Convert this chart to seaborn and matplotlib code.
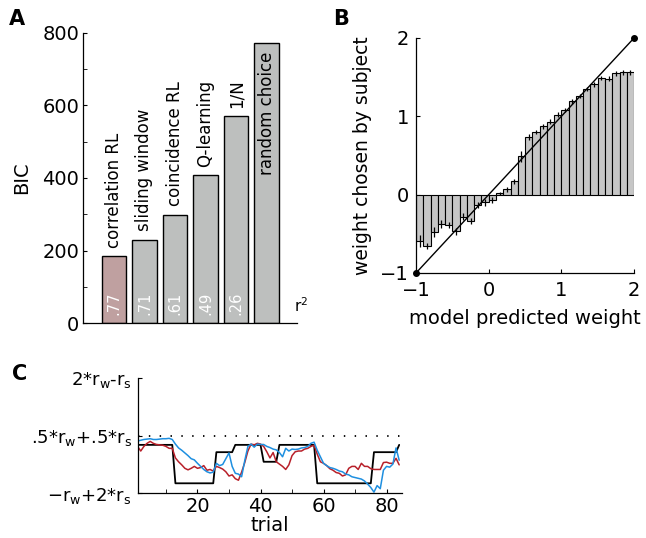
import numpy as np
import pandas as pd
import matplotlib
matplotlib.use('Agg')
import matplotlib.pyplot as plt
import seaborn as sns

# ---- Panel A: model comparison (BIC) ----
models = ['correlation RL', 'sliding window', 'coincidence RL', 'Q-learning', '1/N', 'random choice']
bic = [184, 230, 299, 407, 570, 772]
r2_labels = ['.77', '.71', '.61', '.49', '.26', '']
bar_colors = ['#c49b9b', '#bdbfbe', '#bdbfbe', '#bdbfbe', '#bdbfbe', '#bdbfbe']

# ---- Panel B: chosen vs predicted weight ----
pred_weight = [-0.95, -0.85, -0.75, -0.65, -0.55, -0.45, -0.35, -0.25, -0.15, -0.05,
               0.05, 0.15, 0.25, 0.35, 0.45, 0.55, 0.65, 0.75, 0.85, 0.95,
               1.05, 1.15, 1.25, 1.35, 1.45, 1.55, 1.65, 1.75, 1.85, 1.95]
chosen_weight = [-0.59, -0.66, -0.48, -0.38, -0.39, -0.47, -0.28, -0.34, -0.13, -0.10,
                 -0.065, 0.02, 0.07, 0.17, 0.49, 0.74, 0.80, 0.87, 0.93, 1.02,
                 1.08, 1.19, 1.26, 1.35, 1.41, 1.49, 1.48, 1.55, 1.56, 1.56]
chosen_err = [0.075, 0.04, 0.065, 0.05, 0.04, 0.05, 0.05, 0.04, 0.04, 0.04,
              0.04, 0.02, 0.03, 0.03, 0.07, 0.04, 0.03, 0.03, 0.03, 0.03,
              0.03, 0.03, 0.03, 0.03, 0.03, 0.03, 0.03, 0.03, 0.03, 0.03]
identity = [-1, 2]

# ---- Panel C: example session ----
trial = list(range(1, 85))
true_w = [0.26, 0.26, 0.26, 0.26, 0.26, 0.26, 0.26, 0.26, 0.26, 0.26, 0.26, 0.26,
          -0.74, -0.74, -0.74, -0.74, -0.74, -0.74, -0.74, -0.74, -0.74, -0.74, -0.74, -0.74, -0.74,
          0.07, 0.07, 0.07, 0.07, 0.07, 0.07,
          0.26, 0.26, 0.26, 0.26, 0.26, 0.26, 0.26, 0.26, 0.26,
          -0.18, -0.18, -0.18, -0.18, -0.18,
          0.26, 0.26, 0.26, 0.26, 0.26, 0.26, 0.26, 0.26, 0.26, 0.26, 0.26, 0.26,
          -0.74, -0.74, -0.74, -0.74, -0.74, -0.74, -0.74, -0.74, -0.74,
          -0.74, -0.74, -0.74, -0.74, -0.74, -0.74, -0.74, -0.74, -0.74,
          0.07, 0.07, 0.07, 0.07, 0.07, 0.07, 0.07, 0.07,
          0.26]
subject_w = [0.22, 0.10, 0.22, 0.30, 0.35, 0.30, 0.27, 0.26, 0.25, 0.22,
             0.17, 0.17, -0.08, -0.18, -0.26, -0.35, -0.39, -0.35, -0.30, -0.35,
             -0.33, -0.28, -0.40, -0.38, -0.42, -0.30, -0.33, -0.37, -0.44, -0.55,
             -0.52, -0.62, -0.66, -0.45, -0.20, 0.10, 0.28, 0.26, 0.30, 0.28,
             0.22, 0.08, -0.08, 0.06, -0.18, -0.24, -0.30, -0.38, -0.26, -0.02,
             0.08, 0.10, 0.10, 0.15, 0.17, 0.22, 0.25, 0.02, -0.18, -0.22,
             -0.28, -0.36, -0.40, -0.46, -0.48, -0.55, -0.52, -0.35, -0.30, -0.30,
             -0.38, -0.22, -0.30, -0.30, -0.36, -0.38, -0.38, -0.38, -0.20, -0.19,
             -0.22, -0.22, -0.09, -0.26]
model_w = [0.36, 0.38, 0.40, 0.41, 0.42, 0.40, 0.40, 0.41, 0.42, 0.42,
           0.43, 0.40, 0.28, 0.18, 0.12, 0.05, -0.02, -0.10, -0.13, -0.22,
           -0.30, -0.38, -0.44, -0.47, -0.45, -0.22, -0.28, -0.25, -0.10, 0.05,
           -0.30, -0.48, -0.50, -0.57, -0.15, 0.22, 0.28, 0.20, 0.28, 0.27,
           0.27, 0.22, 0.19, 0.15, 0.13, 0.06, -0.05, 0.17, 0.10, 0.15,
           0.14, 0.15, 0.18, 0.19, 0.22, 0.30, 0.33, 0.12, -0.05, -0.22,
           -0.28, -0.33, -0.35, -0.38, -0.42, -0.44, -0.50, -0.52, -0.57, -0.59,
           -0.61, -0.63, -0.68, -0.76, -0.85, -0.97, -0.80, -0.88, -0.40, -0.30,
           -0.32, -0.24, 0.18, -0.14]
c_ticks = [-1, 0.5, 2]
c_ticklabels = [r'$-$r$_\mathregular{w}$+2*r$_\mathregular{s}$',
                r'.5*r$_\mathregular{w}$+.5*r$_\mathregular{s}$',
                r'2*r$_\mathregular{w}$-r$_\mathregular{s}$']

sns.set_style('ticks')
plt.rcParams['font.family'] = ['DejaVu Sans']
plt.rcParams['xtick.direction'] = 'in'
plt.rcParams['ytick.direction'] = 'in'
plt.rcParams['axes.linewidth'] = 0.9
for key in ['text.color', 'axes.labelcolor', 'axes.edgecolor', 'xtick.color', 'ytick.color']:
    plt.rcParams[key] = 'black'
plt.rcParams['mathtext.default'] = 'regular'

fig = plt.figure(figsize=(6.46, 5.38), dpi=100)
axA = fig.add_axes([0.1289, 0.3996, 0.3313, 0.5391])
axB = fig.add_axes([0.6440, 0.4926, 0.3375, 0.4368])
axC = fig.add_axes([0.2130, 0.0831, 0.4098, 0.2143])

# Panel A
sns.barplot(x=models, y=bic, hue=models, palette=bar_colors, legend=False,
            width=0.8, edgecolor='black', linewidth=1.0, ax=axA)
for i, (name, val, r2) in enumerate(zip(models, bic, r2_labels)):
    if name == 'random choice':
        axA.annotate(name, (i, val), xytext=(0, -6), textcoords='offset points',
                     rotation=90, ha='center', va='top', fontsize=12)
    else:
        axA.annotate(name, (i, val), xytext=(0, 6), textcoords='offset points',
                     rotation=90, ha='center', va='bottom', fontsize=12)
    if r2:
        axA.text(i, 22, r2, rotation=90, ha='center', va='bottom', color='white', fontsize=10.5)
axA.text(5.9, 22, 'r$^2$', ha='left', va='bottom', fontsize=11)
axA.set_xlim(-1, 6)
axA.set_ylim(0, 800)
axA.set_xticks([])
axA.set_yticks([0, 200, 400, 600, 800])
axA.set_yticks([100, 300, 500, 700], minor=True)
axA.tick_params(axis='y', which='both', length=3, labelsize=14, pad=3)
axA.set_ylabel('BIC', fontsize=14, labelpad=8)
sns.despine(ax=axA)

# Panel B
sns.barplot(x=pred_weight, y=chosen_weight, native_scale=True, width=1.0,
            color='#c6c6c6', edgecolor='black', linewidth=0.8, errorbar=None, ax=axB)
axB.errorbar(pred_weight, chosen_weight, yerr=chosen_err, fmt='none',
             ecolor='black', elinewidth=0.9, capsize=0)
axB.plot(identity, identity, color='black', lw=1.0, marker='o', ms=4, clip_on=False, zorder=5)
axB.set_xlim(-1, 2)
axB.set_ylim(-1, 2)
axB.set_xticks([-1, 0, 1, 2])
axB.set_yticks([-1, 0, 1, 2])
axB.tick_params(axis='both', length=3, labelsize=14)
axB.tick_params(axis='y', pad=5)
axB.tick_params(axis='x', pad=6)
axB.set_xlabel('model predicted weight', fontsize=14, labelpad=6)
axB.set_ylabel('weight chosen by subject', fontsize=13.5, labelpad=6)
sns.despine(ax=axB)

# Panel C
sns.lineplot(x=trial, y=true_w, color='black', lw=1.3, ax=axC)
sns.lineplot(x=trial, y=subject_w, color='#b8202a', lw=1.1, ax=axC)
sns.lineplot(x=trial, y=model_w, color='#1e8fe0', lw=1.1, ax=axC)
axC.axhline(0.5, color='black', lw=1.3, ls=(0, (0.8, 5.2)))
axC.set_xlim(1, 85)
axC.set_ylim(-1, 2)
axC.set_xticks([20, 40, 60, 80])
axC.set_xticks([10, 30, 50, 70], minor=True)
axC.set_yticks(c_ticks)
axC.set_yticklabels(c_ticklabels)
axC.tick_params(axis='both', which='both', length=3)
axC.tick_params(axis='x', labelsize=14, pad=3)
axC.tick_params(axis='y', labelsize=13, pad=4)
axC.set_xlabel('trial', fontsize=14, labelpad=0)
sns.despine(ax=axC)

fig.text(9 / 646, 1 - 9 / 538, 'A', ha='left', va='top', fontsize=15, fontweight='bold')
fig.text(333 / 646, 1 - 9 / 538, 'B', ha='left', va='top', fontsize=15, fontweight='bold')
fig.text(12 / 646, 1 - 364 / 538, 'C', ha='left', va='top', fontsize=15, fontweight='bold')

fig.savefig('out.png', dpi=100)
